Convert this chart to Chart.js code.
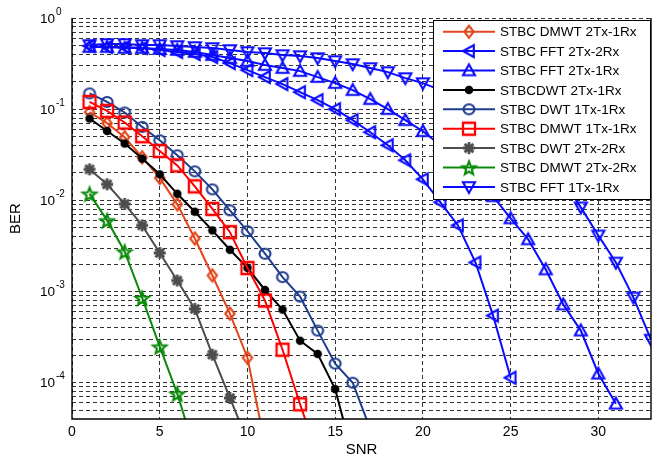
<!DOCTYPE html>
<html><head><meta charset="utf-8">
<script src="https://cdn.jsdelivr.net/npm/chart.js@4.4.1/dist/chart.umd.min.js"></script>
<style>html,body{margin:0;padding:0;background:#fff;}canvas{display:block;}</style>
</head><body>
<canvas id="c" width="661" height="457"></canvas>
<script>
// ---------- data ----------
const snr = [1,2,3,4,5,6,7,8,9,10,11,12,13,14,15,16,17,18,19,20,21,22,23,24,25,26,27,28,29,30,31,32,33];
const seriesLabels = ["STBC DMWT 2Tx-1Rx","STBC FFT 2Tx-2Rx","STBC FFT 2Tx-1Rx","STBCDWT 2Tx-1Rx","STBC DWT 1Tx-1Rx","STBC DMWT 1Tx-1Rx","STBC DWT 2Tx-2Rx","STBC DMWT 2Tx-2Rx","STBC FFT 1Tx-1Rx"];
const berDmwt2T1R = [0.0927,0.0702,0.0492,0.0297,0.0176,0.00904,0.00382,0.0015,5.73e-4,1.88e-4,2.1e-5];
const berFft2T2R = [0.4924,0.4801,0.4801,0.4681,0.4451,0.4231,0.4022,0.3727,0.3202,0.2683,0.2247,0.1883,0.1537,0.1256,0.1,0.0757,0.0559,0.0402,0.0275,0.0170,0.00951,0.00531,0.00208,5.45e-4,1.135e-4];
const berFft2T1R = [0.480,0.480,0.468,0.468,0.4564,0.4451,0.4231,0.3922,0.3635,0.3370,0.3044,0.2822,0.2616,0.2247,0.1931,0.1617,0.1288,0.1,0.0757,0.0573,0.0402,0.0275,0.0179,0.01107,0.00634,0.00373,0.001745,7.2e-4,3.73e-4,1.256e-4,5.88e-5];
const berDwt2T1R = [0.0790,0.0577,0.0420,0.0287,0.0193,0.0118,0.00751,0.00468,0.00287,0.00182,0.00104,6.34e-4,2.89e-4,2.07e-4,8.5e-5,1.6e-5];
const berDwt1T1R = [0.149,0.120,0.0920,0.0639,0.0456,0.0312,0.0208,0.0132,0.00777,0.0046,0.0026,0.00144,8.8e-4,3.73e-4,1.62e-4,1.0e-4,3.1e-5];
const berDmwt1T1R = [0.120,0.0958,0.0714,0.0505,0.0348,0.0242,0.01425,0.00806,0.00448,0.00181,7.96e-4,2.3e-4,5.8e-5,1.6e-5];
const berDwt2T2R = [0.0219,0.0150,0.00915,0.00531,0.00265,0.00132,6.45e-4,2.03e-4,6.8e-5,2.3e-5];
const berDmwt2T2R = [0.01185,0.00603,0.00275,8.5e-4,2.49e-4,7.6e-5,1.8e-5];
const berFft1T1R = [0.505,0.518,0.518,0.505,0.505,0.4924,0.4801,0.4681,0.4451,0.4231,0.4125,0.3922,0.3823,0.3635,0.3370,0.3123,0.2822,0.2550,0.2191,0.1931,0.1617,0.1321,0.1052,0.0796,0.0588,0.04125,0.0275,0.01659,0.00838,0.004125,0.00208,8.59e-4,2.97e-4];
const xTicks = [0,5,10,15,20,25,30];
const yDecades = [0,-1,-2,-3,-4];
const xTitle = "SNR", yTitle = "BER";

// ---------- styles ----------
const colors = ["#e2461a","#0a0aff","#0a0aff","#000000","#1f3d8f","#ff0000","#4d4d4d","#0a8a0a","#0a0aff"];
const markerKinds = ["diamond","triLeft","triUp","dot","circle","square","asterisk","pentagram","triDown"];
const seriesValues = [berDmwt2T1R,berFft2T2R,berFft2T1R,berDwt2T1R,berDwt1T1R,berDmwt1T1R,berDwt2T2R,berDmwt2T2R,berFft1T1R];

function makeMarker(kind, color){
  const S = 20, c = document.createElement('canvas'); c.width = S; c.height = S;
  const g = c.getContext('2d'); const m = S/2;
  g.strokeStyle = color; g.fillStyle = color; g.lineWidth = 2.1; g.lineJoin='miter';
  g.beginPath();
  if (kind === 'diamond'){ const r=6; g.moveTo(m,m-r); g.lineTo(m+r*0.78,m); g.lineTo(m,m+r); g.lineTo(m-r*0.78,m); g.closePath(); g.stroke(); }
  else if (kind === 'triLeft'){ const r=6; g.moveTo(m-r,m); g.lineTo(m+r*0.8,m-r); g.lineTo(m+r*0.8,m+r); g.closePath(); g.stroke(); }
  else if (kind === 'triUp'){ const r=6; g.moveTo(m,m-r); g.lineTo(m+r,m+r*0.8); g.lineTo(m-r,m+r*0.8); g.closePath(); g.stroke(); }
  else if (kind === 'triDown'){ const r=6; g.moveTo(m,m+r); g.lineTo(m+r,m-r*0.8); g.lineTo(m-r,m-r*0.8); g.closePath(); g.stroke(); }
  else if (kind === 'dot'){ g.arc(m,m,4.3,0,Math.PI*2); g.fill(); }
  else if (kind === 'circle'){ g.ellipse(m,m,5.5,5,0,0,Math.PI*2); g.stroke(); }
  else if (kind === 'square'){ g.lineWidth=2.3; g.rect(m-6,m-6,12,12); g.stroke(); }
  else if (kind === 'asterisk'){ g.lineWidth=2.8; const r=6, d=r*0.72;
    g.moveTo(m-r,m); g.lineTo(m+r,m); g.moveTo(m,m-r); g.lineTo(m,m+r);
    g.moveTo(m-d,m-d); g.lineTo(m+d,m+d); g.moveTo(m-d,m+d); g.lineTo(m+d,m-d); g.stroke(); }
  else if (kind === 'pentagram'){ g.lineWidth=2.1; const R=7, r2=3;
    for(let i=0;i<10;i++){ const a=-Math.PI/2+i*Math.PI/5, rr=(i%2===0)?R:r2; const px=m+rr*Math.cos(a), py=m+1+rr*Math.sin(a); if(i===0) g.moveTo(px,py); else g.lineTo(px,py);} g.closePath(); g.stroke(); }
  return c;
}
const markers = markerKinds.map((k,i)=>makeMarker(k, colors[i]));

const datasets = seriesValues.map((vals,i)=>({
  label: seriesLabels[i],
  data: vals.map((v,j)=>({x: snr[j], y: v})),
  borderColor: colors[i], backgroundColor: colors[i],
  borderWidth: 2, pointStyle: markers[i], pointRadius: 5,
  fill: false, tension: 0, order: seriesValues.length - i
}));

const FONT = '"Liberation Sans", Arial, sans-serif';
const decor = {
  id: 'decor',
  beforeDraw(chart){ const c=chart.ctx; c.save(); c.fillStyle='#fff'; c.fillRect(0,0,chart.width,chart.height); c.restore(); },
  afterDraw(chart){
    const c = chart.ctx, ca = chart.chartArea, xs = chart.scales.x, ys = chart.scales.y;
    c.save();
    // frame
    c.strokeStyle = '#000'; c.lineWidth = 1.4; c.setLineDash([]);
    c.beginPath(); c.moveTo(ca.left, ca.top); c.lineTo(ca.left, ca.bottom); c.lineTo(ca.right, ca.bottom); c.lineTo(ca.right, ca.top); c.stroke();
    // x tick labels
    c.fillStyle = '#000'; c.font = '14px ' + FONT; c.textAlign = 'center'; c.textBaseline = 'middle';
    xTicks.forEach(t => c.fillText(String(t), xs.getPixelForValue(t), ca.bottom + 13));
    // y tick labels
    yDecades.forEach(e => {
      const y = ys.getPixelForValue(Math.pow(10, e));
      c.font = '13.5px ' + FONT; c.textAlign = 'right'; c.textBaseline = 'middle';
      c.fillText('10', ca.left - 17, y + 1);
      c.font = '10px ' + FONT; c.textAlign = 'left';
      c.fillText(String(e), ca.left - 16, y - 6);
    });
    // axis titles
    c.font = '15px ' + FONT; c.textAlign = 'center'; c.textBaseline = 'middle';
    c.fillText(xTitle, (ca.left + ca.right)/2, ca.bottom + 31);
    c.save(); c.translate(16, (ca.top + ca.bottom)/2); c.rotate(-Math.PI/2); c.fillText(yTitle, 0, 0); c.restore();
    // legend
    const bx = ca.right - 218, by = ca.top + 2, bw = 217, bh = 179;
    c.fillStyle = '#fff'; c.fillRect(bx, by, bw, bh);
    c.strokeStyle = '#000'; c.lineWidth = 1; c.strokeRect(bx + 0.5, by + 0.5, bw, bh);
    seriesLabels.forEach((lab, i) => {
      const y = by + 11.7 + i * 19.4;
      c.strokeStyle = colors[i]; c.lineWidth = 2; c.beginPath(); c.moveTo(bx + 10, y); c.lineTo(bx + 62, y); c.stroke();
      c.drawImage(markers[i], bx + 36 - 10, y - 10);
      c.fillStyle = '#000'; c.font = '13.5px ' + FONT; c.textAlign = 'left'; c.textBaseline = 'middle';
      c.fillText(lab, bx + 67, y + 1);
    });
    c.restore();
  }
};

new Chart(document.getElementById('c'), {
  type: 'line',
  data: { datasets },
  options: {
    responsive: false, animation: false, events: [],
    layout: { padding: { left: 72, top: 18, right: 10, bottom: 38 } },
    plugins: { legend: { display: false }, tooltip: { enabled: false } },
    scales: {
      x: { type: 'linear', min: 0, max: 33,
        afterBuildTicks: s => { s.ticks = xTicks.map(v => ({ value: v })); },
        ticks: { display: false }, title: { display: false },
        grid: { color: '#333', lineWidth: 1, drawTicks: false },
        border: { display: false, dash: [4, 3] } },
      y: { type: 'logarithmic', min: 4e-5, max: 1,
        afterBuildTicks: s => { const t = []; for (let e = -5; e <= 0; e++) for (let m = 1; m <= 9; m++) { const v = m * Math.pow(10, e); if (v > 4.01e-5 && v <= 1.0001) t.push({ value: v }); } s.ticks = t; },
        ticks: { display: false, autoSkip: false }, title: { display: false },
        grid: { color: '#333', lineWidth: 1, drawTicks: false },
        border: { display: false, dash: [4, 3] } }
    }
  },
  plugins: [decor]
});
</script>
</body></html>
